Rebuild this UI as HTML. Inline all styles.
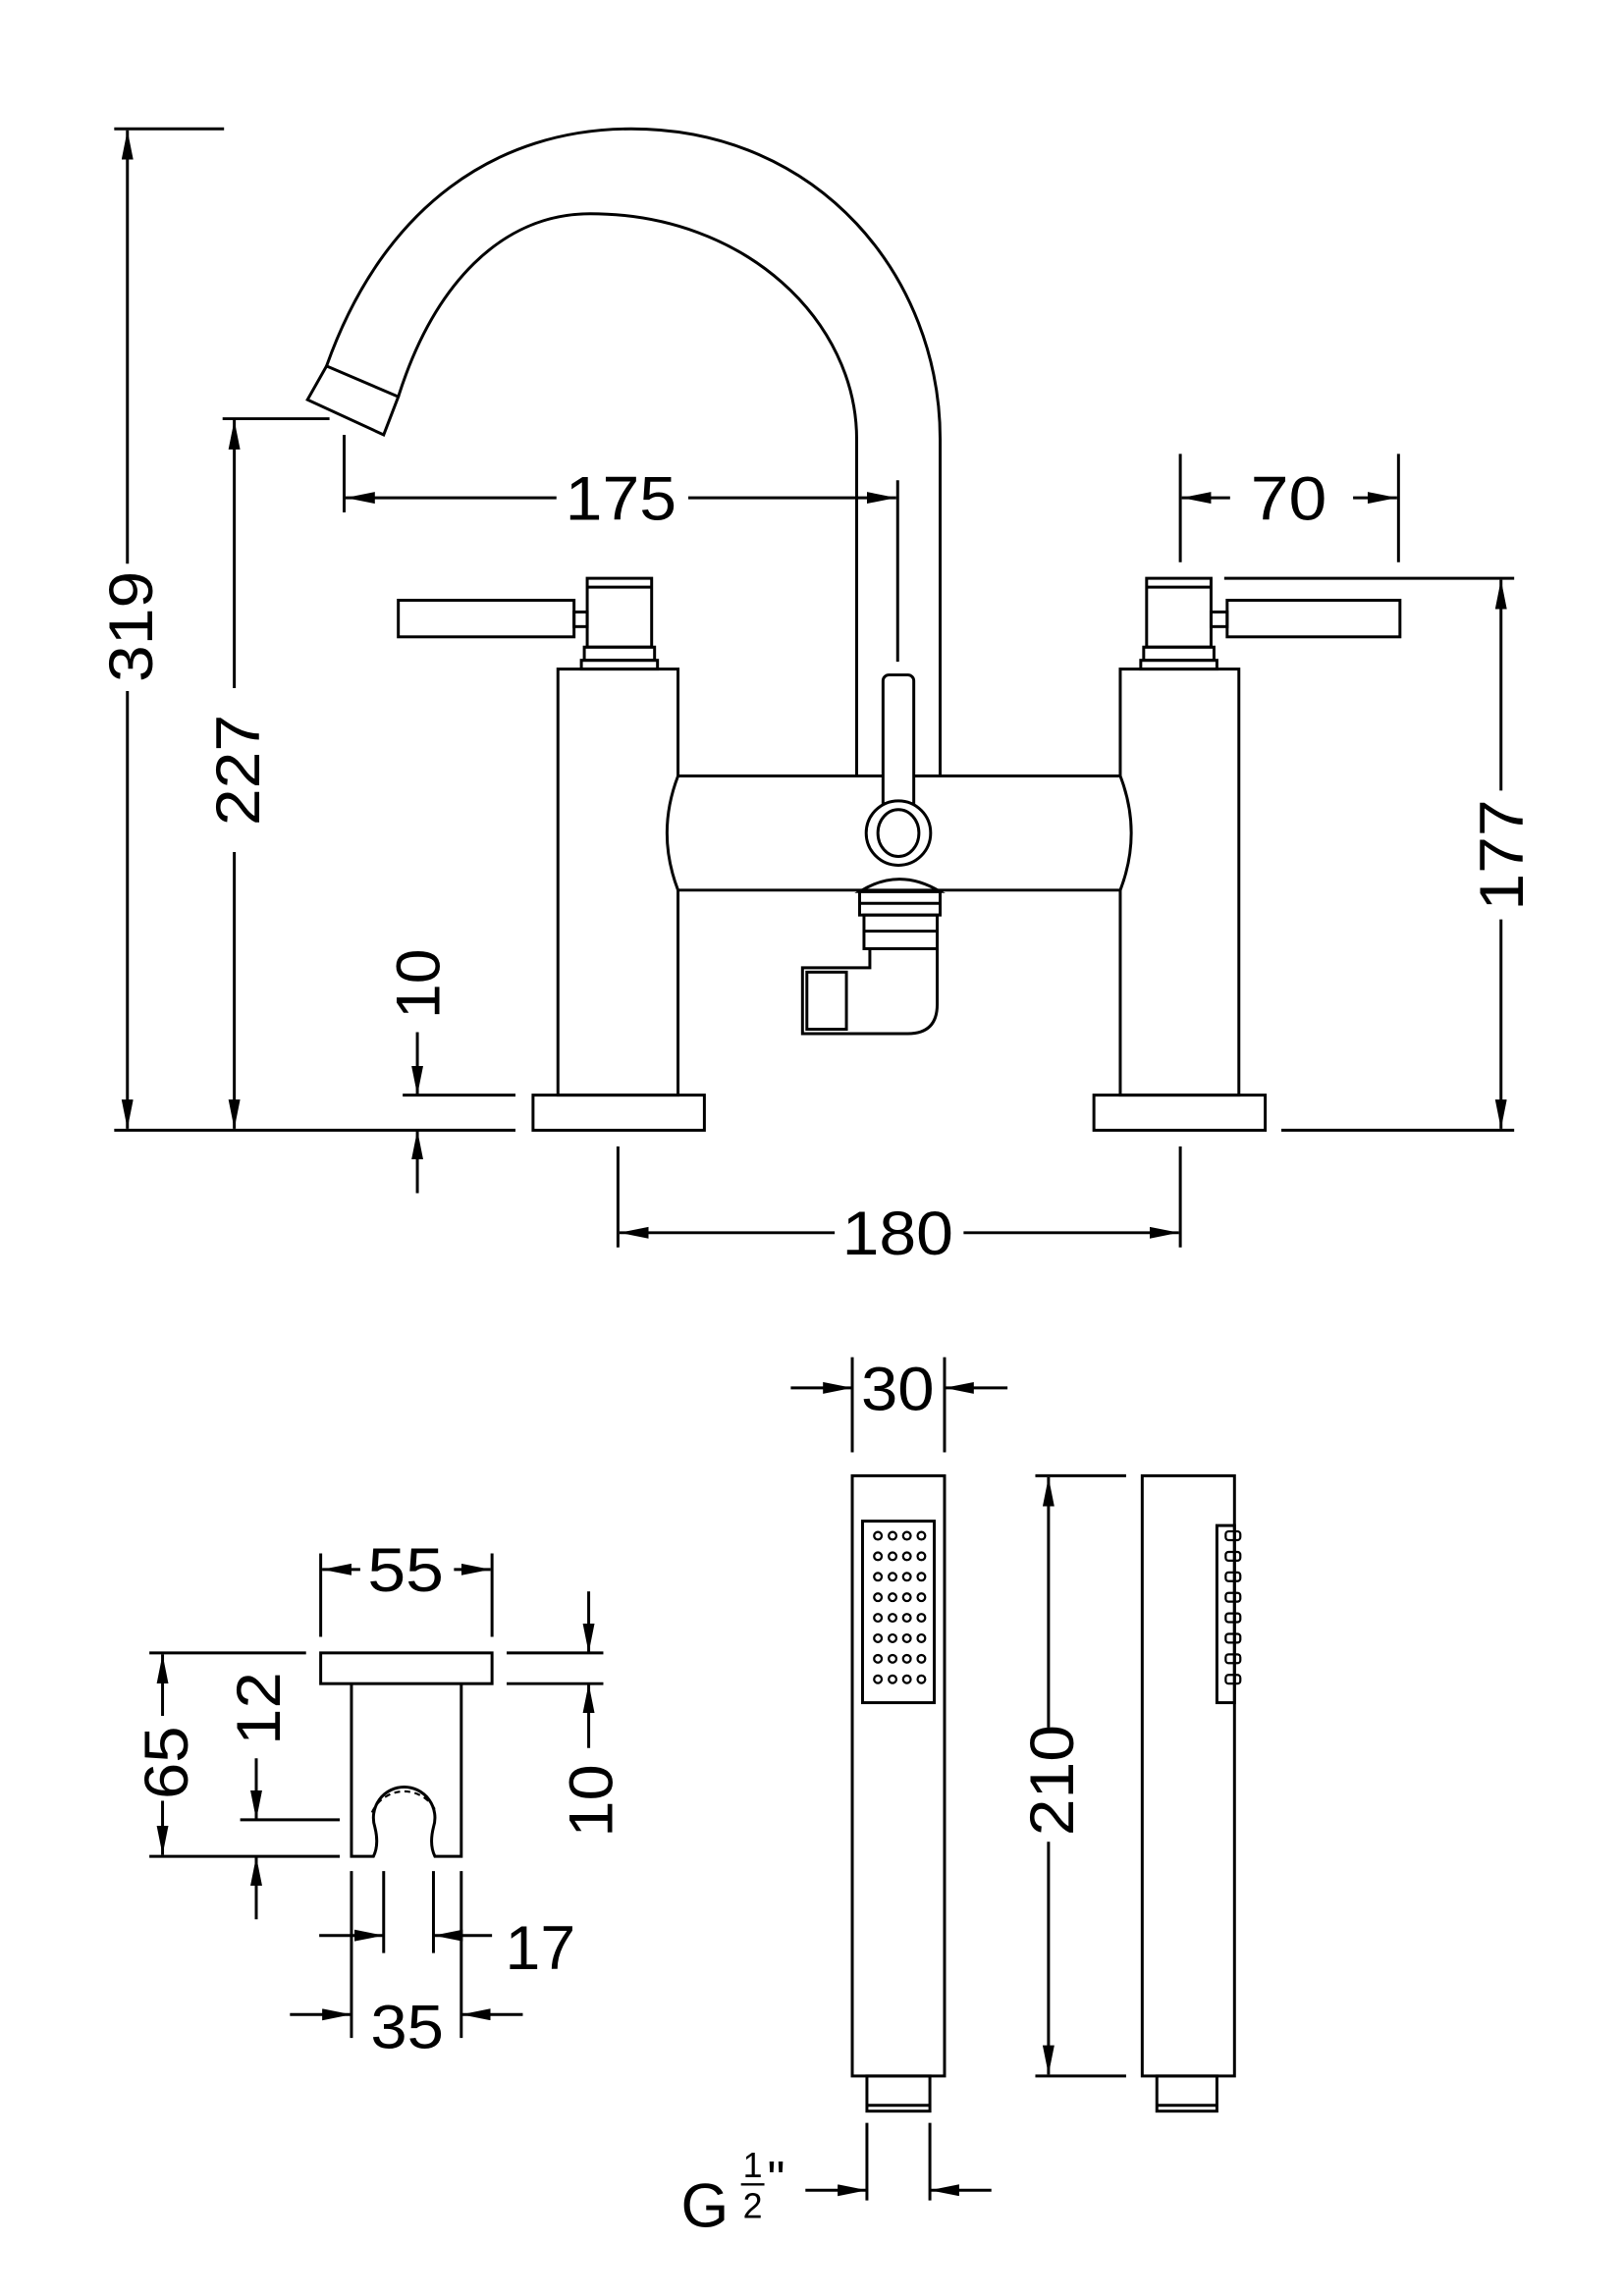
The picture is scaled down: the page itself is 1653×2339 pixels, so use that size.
<!DOCTYPE html>
<html><head><meta charset="utf-8"><style>
html,body{margin:0;padding:0;background:#fff;}
svg{display:block}
text{font-family:"Liberation Sans",sans-serif;fill:#000;}
</style></head><body>
<svg width="1653" height="2339" viewBox="0 0 1100 1556.5" preserveAspectRatio="none" xmlns="http://www.w3.org/2000/svg">
<defs>
<marker id="a" markerUnits="userSpaceOnUse" markerWidth="21" markerHeight="9" refX="20" refY="4" orient="auto"><path d="M0,0 L20,4 L0,8 z" fill="#000"/></marker>
</defs>
<g transform="scale(0.9925)">
<g fill="none" stroke="#000" stroke-width="2">
<!-- 319 -->
<line x1="78" y1="88" x2="153" y2="88"/>
<line x1="78" y1="772" x2="352" y2="772"/>
<line x1="87" y1="385" x2="87" y2="89" marker-end="url(#a)"/>
<line x1="87" y1="472" x2="87" y2="771" marker-end="url(#a)"/>
<!-- 227 -->
<line x1="152" y1="286" x2="225" y2="286"/>
<line x1="160" y1="470" x2="160" y2="287" marker-end="url(#a)"/>
<line x1="160" y1="582" x2="160" y2="771" marker-end="url(#a)"/>
<!-- 10 top -->
<line x1="275" y1="748" x2="352" y2="748"/>
<line x1="285" y1="705" x2="285" y2="748" marker-end="url(#a)"/>
<line x1="285" y1="815" x2="285" y2="772" marker-end="url(#a)"/>
<!-- 175 -->
<line x1="235" y1="297" x2="235" y2="350"/>
<line x1="613" y1="328" x2="613" y2="452"/>
<line x1="380" y1="340" x2="236" y2="340" marker-end="url(#a)"/>
<line x1="470" y1="340" x2="612" y2="340" marker-end="url(#a)"/>
<!-- 70 -->
<line x1="806" y1="310" x2="806" y2="384"/>
<line x1="955" y1="310" x2="955" y2="384"/>
<line x1="840" y1="340" x2="807" y2="340" marker-end="url(#a)"/>
<line x1="924" y1="340" x2="954" y2="340" marker-end="url(#a)"/>
<!-- 177 -->
<line x1="836" y1="395" x2="1034" y2="395"/>
<line x1="875" y1="772" x2="1034" y2="772"/>
<line x1="1025" y1="540" x2="1025" y2="396" marker-end="url(#a)"/>
<line x1="1025" y1="628" x2="1025" y2="771" marker-end="url(#a)"/>
<!-- 180 -->
<line x1="422" y1="783" x2="422" y2="852"/>
<line x1="806" y1="783" x2="806" y2="852"/>
<line x1="570" y1="842" x2="423" y2="842" marker-end="url(#a)"/>
<line x1="658" y1="842" x2="805" y2="842" marker-end="url(#a)"/>

<!-- spout -->
<path d="M223,250 C262,140 340,88 431,88 C560,88 642,190 642,300 L642,530"/>
<path d="M272,271 C296,195 342,146 403,146 C510,146 585,220 585,300 L585,530"/>
<path d="M223,250 L210,273 L262,297 L272,271 Z"/>
<!-- pillars -->
<rect x="381" y="457" width="82" height="291"/>
<rect x="364" y="748" width="117" height="24"/>
<rect x="765" y="457" width="81" height="291"/>
<rect x="747" y="748" width="117" height="24"/>
<!-- crossbar -->
<path d="M463,530 L765,530 Q780,569 765,608 L463,608 Q448,569 463,530 Z" fill="#fff"/>
<!-- left handle -->
<rect x="272" y="410" width="120" height="25"/>
<rect x="392" y="418" width="9" height="10"/>
<rect x="401" y="395" width="44" height="47"/>
<line x1="401" y1="401" x2="445" y2="401"/>
<rect x="399" y="442" width="48" height="9"/>
<rect x="397" y="451" width="52" height="6"/>
<!-- right handle -->
<rect x="838" y="410" width="118" height="25"/>
<rect x="827" y="418" width="11" height="10"/>
<rect x="783" y="395" width="44" height="47"/>
<line x1="783" y1="401" x2="827" y2="401"/>
<rect x="781" y="442" width="48" height="9"/>
<rect x="779" y="451" width="52" height="6"/>
<!-- diverter -->
<rect x="603" y="461" width="21" height="95" rx="4" fill="#fff"/>
<circle cx="613.5" cy="569" r="22" fill="#fff"/>
<ellipse cx="613.5" cy="569" rx="14" ry="16"/>
<path d="M587,609 Q614,592 642,609 Z"/>
<rect x="587" y="609" width="55" height="16"/>
<line x1="587" y1="617" x2="642" y2="617"/>
<rect x="590" y="625" width="50" height="23"/>
<line x1="590" y1="636" x2="640" y2="636"/>
<path d="M594,648 L594,661 L548,661 L548,706 L620,706 Q640,706 640,686 L640,648"/>
<rect x="551" y="664" width="27" height="39"/>

<!-- holder -->
<line x1="219" y1="1061" x2="219" y2="1118"/>
<line x1="336" y1="1061" x2="336" y2="1118"/>
<line x1="246" y1="1072" x2="220" y2="1072" marker-end="url(#a)"/>
<line x1="310" y1="1072" x2="335" y2="1072" marker-end="url(#a)"/>
<rect x="219" y="1129" width="117" height="21"/>
<path d="M240,1150 L240,1268 L255,1268 Q259,1260 256,1248 A21,21 0 1 1 296,1248 Q293,1260 297,1268 L315,1268 L315,1150"/>
<path d="M254,1238 A24,24 0 0 1 298,1238" stroke-dasharray="4,3" stroke-width="1.4"/>
<!-- 65 -->
<line x1="102" y1="1129" x2="209" y2="1129"/>
<line x1="102" y1="1268" x2="232" y2="1268"/>
<line x1="111" y1="1172" x2="111" y2="1130" marker-end="url(#a)"/>
<line x1="111" y1="1230" x2="111" y2="1267" marker-end="url(#a)"/>
<!-- 12 -->
<line x1="164" y1="1243" x2="232" y2="1243"/>
<line x1="175" y1="1201" x2="175" y2="1243" marker-end="url(#a)"/>
<line x1="175" y1="1311" x2="175" y2="1268" marker-end="url(#a)"/>
<!-- 10 right -->
<line x1="346" y1="1129" x2="412" y2="1129"/>
<line x1="346" y1="1150" x2="412" y2="1150"/>
<line x1="402" y1="1087" x2="402" y2="1129" marker-end="url(#a)"/>
<line x1="402" y1="1194" x2="402" y2="1150" marker-end="url(#a)"/>
<!-- 17 / 35 -->
<line x1="240" y1="1278" x2="240" y2="1392"/>
<line x1="315" y1="1278" x2="315" y2="1392"/>
<line x1="262" y1="1278" x2="262" y2="1334"/>
<line x1="296" y1="1278" x2="296" y2="1334"/>
<line x1="218" y1="1322" x2="262" y2="1322" marker-end="url(#a)"/>
<line x1="336" y1="1322" x2="296" y2="1322" marker-end="url(#a)"/>
<line x1="198" y1="1376" x2="240" y2="1376" marker-end="url(#a)"/>
<line x1="357" y1="1376" x2="315" y2="1376" marker-end="url(#a)"/>

<!-- handset -->
<line x1="582" y1="927" x2="582" y2="992"/>
<line x1="645" y1="927" x2="645" y2="992"/>
<line x1="540" y1="948" x2="582" y2="948" marker-end="url(#a)"/>
<line x1="688" y1="948" x2="645" y2="948" marker-end="url(#a)"/>
<rect x="582" y="1008" width="63" height="410"/>
<rect x="589" y="1039" width="49" height="124"/>
<rect x="592" y="1418" width="43" height="24"/>
<line x1="592" y1="1438" x2="635" y2="1438"/>
<line x1="592" y1="1450" x2="592" y2="1503"/>
<line x1="635" y1="1450" x2="635" y2="1503"/>
<line x1="550" y1="1496" x2="592" y2="1496" marker-end="url(#a)"/>
<line x1="677" y1="1496" x2="635" y2="1496" marker-end="url(#a)"/>
<!-- 210 -->
<line x1="707" y1="1008" x2="769" y2="1008"/>
<line x1="707" y1="1418" x2="769" y2="1418"/>
<line x1="716" y1="1180" x2="716" y2="1009" marker-end="url(#a)"/>
<line x1="716" y1="1258" x2="716" y2="1417" marker-end="url(#a)"/>
<!-- side -->
<rect x="780" y="1008" width="63" height="410"/>
<rect x="831" y="1042" width="12" height="121"/>
<rect x="790" y="1418" width="41" height="24"/>
<line x1="790" y1="1438" x2="831" y2="1438"/>
</g>
<g fill="none" stroke="#000" stroke-width="1.5">
<g id="row">
<circle cx="599.5" cy="1049" r="2.6"/><circle cx="609.5" cy="1049" r="2.6"/><circle cx="619.3" cy="1049" r="2.6"/><circle cx="629.2" cy="1049" r="2.6"/>
</g>
<use href="#row" y="14"/><use href="#row" y="28"/><use href="#row" y="42"/><use href="#row" y="56"/><use href="#row" y="70"/><use href="#row" y="84"/><use href="#row" y="98"/>
<g id="bump"><rect x="837" y="1046" width="10" height="6" rx="2"/></g>
<use href="#bump" y="14"/><use href="#bump" y="28"/><use href="#bump" y="42"/><use href="#bump" y="56"/><use href="#bump" y="70"/><use href="#bump" y="84"/><use href="#bump" y="98"/>
</g>
<g font-size="42">
<text x="424" y="355" text-anchor="middle" textLength="76" lengthAdjust="spacingAndGlyphs">175</text>
<text x="880" y="355" text-anchor="middle" textLength="52" lengthAdjust="spacingAndGlyphs">70</text>
<text x="613" y="857" text-anchor="middle" textLength="76" lengthAdjust="spacingAndGlyphs">180</text>
<text transform="translate(104,428) rotate(-90)" text-anchor="middle" textLength="76" lengthAdjust="spacingAndGlyphs">319</text>
<text transform="translate(177,526) rotate(-90)" text-anchor="middle" textLength="76" lengthAdjust="spacingAndGlyphs">227</text>
<text transform="translate(300,672) rotate(-90)" text-anchor="middle" textLength="48" lengthAdjust="spacingAndGlyphs">10</text>
<text transform="translate(1040,584) rotate(-90)" text-anchor="middle" textLength="76" lengthAdjust="spacingAndGlyphs">177</text>
<text x="277" y="1087" text-anchor="middle" textLength="52" lengthAdjust="spacingAndGlyphs">55</text>
<text transform="translate(128,1204) rotate(-90)" text-anchor="middle" textLength="50" lengthAdjust="spacingAndGlyphs">65</text>
<text transform="translate(191,1167) rotate(-90)" text-anchor="middle" textLength="50" lengthAdjust="spacingAndGlyphs">12</text>
<text transform="translate(418,1230) rotate(-90)" text-anchor="middle" textLength="50" lengthAdjust="spacingAndGlyphs">10</text>
<text x="369" y="1345" text-anchor="middle" textLength="48" lengthAdjust="spacingAndGlyphs">17</text>
<text x="278" y="1399" text-anchor="middle" textLength="50" lengthAdjust="spacingAndGlyphs">35</text>
<text x="613" y="963" text-anchor="middle" textLength="50" lengthAdjust="spacingAndGlyphs">30</text>
<text transform="translate(733,1216) rotate(-90)" text-anchor="middle" textLength="76" lengthAdjust="spacingAndGlyphs">210</text>
<text x="465" y="1521">G</text>
</g>
<g font-size="24">
<text x="514" y="1487" text-anchor="middle">1</text>
<text x="514" y="1515" text-anchor="middle">2</text>
<text x="524" y="1500" font-size="34">"</text>
</g>
<line x1="506" y1="1492" x2="522" y2="1492" stroke="#000" stroke-width="1.6"/>
</g>
</svg>
</body></html>
